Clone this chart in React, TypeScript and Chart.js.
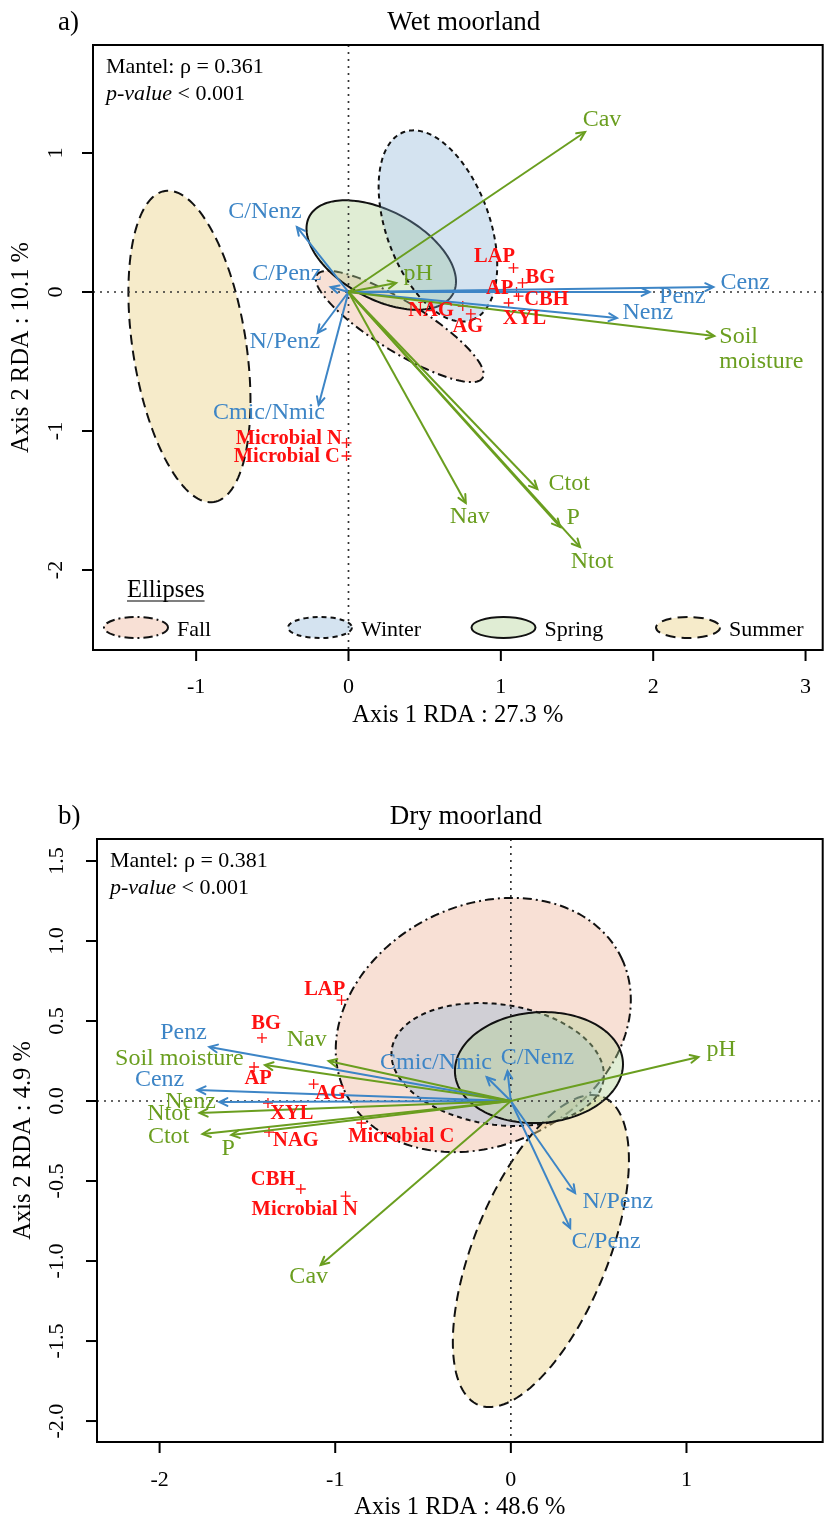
import React, { useEffect, useRef } from "react";
import { Chart, registerables } from "chart.js";
Chart.register(...registerables);

const SERIF = '"Liberation Serif", "Times New Roman", Times, serif';
const BLUE = "#3d85c6";
const GREEN = "#6a9e1f";
const RED = "#ff1010";

// ================= a) Wet moorland =================
const A_ENV_NAMES = ["Cav", "pH", "Soil\nmoisture", "Ctot", "P", "Ntot", "Nav"];
const A_ENV_X = [1.553, 0.313, 2.401, 1.24, 1.39, 1.52, 0.77];
const A_ENV_Y = [1.151, 0.065, -0.317, -1.417, -1.691, -1.835, -1.518];
const A_ENV_LX = [1.664, 0.457, 2.434, 1.449, 1.475, 1.599, 0.796];
const A_ENV_LY = [1.237, 0.129, -0.414, -1.381, -1.626, -1.942, -1.619];

const A_ENZ_NAMES = ["Cenz", "Penz", "Nenz", "C/Nenz", "C/Penz", "N/Penz", "Cmic/Nmic"];
const A_ENZ_X = [2.395, 1.977, 1.762, -0.339, -0.117, -0.202, -0.196];
const A_ENZ_Y = [0.036, 0.0, -0.187, 0.468, 0.036, -0.295, -0.813];
const A_ENZ_LX = [2.604, 2.192, 1.964, -0.548, -0.405, -0.418, -0.522];
const A_ENZ_LY = [0.065, -0.036, -0.151, 0.576, 0.129, -0.36, -0.871];

const A_SP_NAMES = ["LAP", "BG", "AP", "CBH", "XYL", "NAG", "AG", "Microbial N", "Microbial C"];
const A_SP_X = [1.083, 1.142, 1.103, 1.116, 1.051, 0.75, 0.803, -0.013, -0.013];
const A_SP_Y = [0.173, 0.065, 0.0, -0.029, -0.079, -0.101, -0.158, -1.086, -1.18];
const A_SP_LX = [0.959, 1.259, 0.992, 1.299, 1.155, 0.542, 0.783, -0.392, -0.405];
const A_SP_LY = [0.252, 0.101, 0.022, -0.058, -0.194, -0.137, -0.252, -1.058, -1.187];

const A_ELL_SEASONS = ["Fall", "Spring", "Winter", "Summer"];
const A_ELL_CX = [0.336, 0.215, 0.587, -1.044];
const A_ELL_CY = [-0.248, 0.266, 0.475, -0.392];
const A_ELL_AX = [0.544, 0.472, 0.223, 0.1605];
const A_ELL_AY = [-0.37, -0.277, -0.676, -1.119];
const A_ELL_BX = [-0.0855, -0.134, 0.319, 0.367];
const A_ELL_BY = [-0.153, -0.28, 0.128, 0.064];

const A_XTICKS = [-1, 0, 1, 2, 3];
const A_XTICK_LABELS = ["-1", "0", "1", "2", "3"];
const A_YTICKS = [-2, -1, 0, 1];
const A_YTICK_LABELS = ["-2", "-1", "0", "1"];

// ================= b) Dry moorland =================
const B_ENV_NAMES = ["Cav", "pH", "Soil moisture", "Ctot", "P", "Ntot", "Nav"];
const B_ENV_X = [-1.083, 1.068, -1.4, -1.756, -1.592, -1.773, -1.038];
const B_ENV_Y = [-1.025, 0.275, 0.225, -0.206, -0.2125, -0.075, 0.25];
const B_ENV_LX = [-1.151, 1.198, -1.887, -1.949, -1.609, -1.949, -1.162];
const B_ENV_LY = [-1.1, 0.319, 0.2625, -0.225, -0.3, -0.081, 0.381];

const B_ENZ_NAMES = ["Cenz", "Penz", "Nenz", "C/Nenz", "C/Penz", "N/Penz", "Cmic/Nmic"];
const B_ENZ_X = [-1.785, -1.717, -1.66, -0.019, 0.338, 0.366, -0.138];
const B_ENZ_Y = [0.069, 0.3375, -0.006, 0.1875, -0.794, -0.575, 0.15];
const B_ENZ_LX = [-2.0, -1.864, -1.824, 0.151, 0.542, 0.609, -0.426];
const B_ENZ_LY = [0.131, 0.425, -0.006, 0.269, -0.881, -0.631, 0.2375];

const B_SP_NAMES = ["LAP", "BG", "AP", "AG", "XYL", "NAG", "Microbial C", "CBH", "Microbial N"];
const B_SP_X = [-0.964, -1.417, -1.462, -1.123, -1.383, -1.377, -0.851, -1.196, -0.941];
const B_SP_Y = [0.631, 0.394, 0.2125, 0.106, -0.0125, -0.194, -0.1375, -0.55, -0.594];
const B_SP_LX = [-1.06, -1.394, -1.439, -1.026, -1.247, -1.224, -0.624, -1.354, -1.174];
const B_SP_LY = [0.694, 0.481, 0.1375, 0.044, -0.081, -0.25, -0.225, -0.494, -0.681];

const B_ELL_SEASONS = ["Fall", "Summer", "Winter", "Spring"];
const B_ELL_CX = [-0.157, 0.171, -0.075, 0.16];
const B_ELL_CY = [0.475, -0.9375, 0.228, 0.209];
const B_ELL_AX = [0.787, 0.355, 0.603, 0.478];
const B_ELL_AY = [0.419, 0.962, -0.094, 0.036];
const B_ELL_BX = [0.294, 0.354, -0.047, 0.0213];
const B_ELL_BY = [-0.675, -0.159, -0.3725, -0.345];

const B_XTICKS = [-2, -1, 0, 1];
const B_XTICK_LABELS = ["-2", "-1", "0", "1"];
const B_YTICKS = [-2, -1.5, -1, -0.5, 0, 0.5, 1, 1.5];
const B_YTICK_LABELS = ["-2.0", "-1.5", "-1.0", "-0.5", "0.0", "0.5", "1.0", "1.5"];

const LEGEND_SEASONS = ["Fall", "Winter", "Spring", "Summer"];

const SEASON_STYLE: any = {
  Fall: { fill: "rgba(236,168,138,0.36)", dash: [9, 4, 2, 4] },
  Winter: { fill: "rgba(128,174,210,0.34)", dash: [5, 4] },
  Spring: { fill: "rgba(178,210,148,0.40)", dash: [] },
  Summer: { fill: "rgba(236,210,138,0.45)", dash: [10, 6] },
};

const PANELS: any[] = [
  {
    letter: "a)", title: "Wet moorland",
    canvasTop: 0, height: 760,
    pad: { left: 93, top: 45, right: 2, bottom: 110 },
    xr: [-1.677, 3.1126], yr: [-2.5755, 1.777],
    xTitle: "Axis 1 RDA : 27.3 %", yTitle: "Axis 2 RDA : 10.1 %",
    xTitleY: 716, yTitleX: 22, xTickY: 687, yTickOff: 37,
    mantel: "Mantel: \u03c1 = 0.361", mantelX: 106, mantelY: [73, 100],
    xticks: A_XTICKS, xtickLabels: A_XTICK_LABELS, yticks: A_YTICKS, ytickLabels: A_YTICK_LABELS,
    env: { names: A_ENV_NAMES, x: A_ENV_X, y: A_ENV_Y, lx: A_ENV_LX, ly: A_ENV_LY },
    enz: { names: A_ENZ_NAMES, x: A_ENZ_X, y: A_ENZ_Y, lx: A_ENZ_LX, ly: A_ENZ_LY, labelColors: {} },
    sp: { names: A_SP_NAMES, x: A_SP_X, y: A_SP_Y, lx: A_SP_LX, ly: A_SP_LY },
    ell: { seasons: A_ELL_SEASONS, cx: A_ELL_CX, cy: A_ELL_CY, ax: A_ELL_AX, ay: A_ELL_AY, bx: A_ELL_BX, by: A_ELL_BY },
    legend: true,
  },
  {
    letter: "b)", title: "Dry moorland",
    canvasTop: 760, height: 761,
    pad: { left: 97, top: 79, right: 2, bottom: 79 },
    xr: [-2.3564, 1.7756], yr: [-2.131, 1.6375],
    xTitle: "Axis 1 RDA : 48.6 %", yTitle: "Axis 2 RDA : 4.9 %",
    xTitleY: 748, yTitleX: 24, xTickY: 720, yTickOff: 40,
    mantel: "Mantel: \u03c1 = 0.381", mantelX: 110, mantelY: [107, 134],
    xticks: B_XTICKS, xtickLabels: B_XTICK_LABELS, yticks: B_YTICKS, ytickLabels: B_YTICK_LABELS,
    env: { names: B_ENV_NAMES, x: B_ENV_X, y: B_ENV_Y, lx: B_ENV_LX, ly: B_ENV_LY },
    enz: { names: B_ENZ_NAMES, x: B_ENZ_X, y: B_ENZ_Y, lx: B_ENZ_LX, ly: B_ENZ_LY, labelColors: { Nenz: GREEN } },
    sp: { names: B_SP_NAMES, x: B_SP_X, y: B_SP_Y, lx: B_SP_LX, ly: B_SP_LY },
    ell: { seasons: B_ELL_SEASONS, cx: B_ELL_CX, cy: B_ELL_CY, ax: B_ELL_AX, ay: B_ELL_AY, bx: B_ELL_BX, by: B_ELL_BY },
    legend: false,
  },
];

function drawLabel(ctx: any, text: string, x: number, y: number, font: string, color: string) {
  ctx.save();
  ctx.font = font;
  ctx.fillStyle = color;
  ctx.textBaseline = "middle";
  const lines = text.split("\n");
  if (lines.length > 1) {
    ctx.textAlign = "left";
    const lh = 25;
    const y0 = y - ((lines.length - 1) * lh) / 2;
    lines.forEach((l, i) => ctx.fillText(l, x, y0 + i * lh));
  } else {
    ctx.textAlign = "center";
    ctx.fillText(text, x, y);
  }
  ctx.restore();
}

function ellipsePath(ctx: any, pts: number[][]) {
  ctx.beginPath();
  pts.forEach((p, k) => (k ? ctx.lineTo(p[0], p[1]) : ctx.moveTo(p[0], p[1])));
  ctx.closePath();
}

function makePlugin(P: any) {
  return {
    id: "rda",
    beforeDatasetsDraw(chart: any) {
      const ctx = chart.ctx;
      const xs = chart.scales.x, ys = chart.scales.y, a = chart.chartArea;
      ctx.save();
      ctx.beginPath();
      ctx.rect(a.left, a.top, a.right - a.left, a.bottom - a.top);
      ctx.clip();
      const E = P.ell;
      E.seasons.forEach((s: string, i: number) => {
        const st = SEASON_STYLE[s];
        const pts: number[][] = [];
        const N = 160;
        for (let k = 0; k <= N; k++) {
          const t = (k / N) * Math.PI * 2;
          const dx = E.cx[i] + E.ax[i] * Math.cos(t) + E.bx[i] * Math.sin(t);
          const dy = E.cy[i] + E.ay[i] * Math.cos(t) + E.by[i] * Math.sin(t);
          pts.push([xs.getPixelForValue(dx), ys.getPixelForValue(dy)]);
        }
        ellipsePath(ctx, pts);
        ctx.fillStyle = st.fill;
        ctx.fill();
        ctx.setLineDash(st.dash);
        ctx.lineWidth = 2;
        ctx.strokeStyle = "#111";
        ctx.stroke();
      });
      // dotted zero lines
      const x0 = xs.getPixelForValue(0), y0 = ys.getPixelForValue(0);
      ctx.setLineDash([2, 5]);
      ctx.strokeStyle = "#333";
      ctx.lineWidth = 1.7;
      ctx.beginPath();
      ctx.moveTo(x0, a.top);
      ctx.lineTo(x0, a.bottom);
      ctx.moveTo(a.left, y0);
      ctx.lineTo(a.right, y0);
      ctx.stroke();
      ctx.restore();
    },
    afterDatasetsDraw(chart: any) {
      const ctx = chart.ctx;
      const xs = chart.scales.x, ys = chart.scales.y;
      const ox = xs.getPixelForValue(0), oy = ys.getPixelForValue(0);
      const heads = (grp: any, color: string) => {
        grp.x.forEach((vx: number, i: number) => {
          const tx = xs.getPixelForValue(vx), ty = ys.getPixelForValue(grp.y[i]);
          const ang = Math.atan2(ty - oy, tx - ox);
          const L = 9, sp = 0.45;
          ctx.save();
          ctx.strokeStyle = color;
          ctx.lineWidth = 2;
          ctx.lineCap = "round";
          ctx.beginPath();
          ctx.moveTo(tx - L * Math.cos(ang - sp), ty - L * Math.sin(ang - sp));
          ctx.lineTo(tx, ty);
          ctx.lineTo(tx - L * Math.cos(ang + sp), ty - L * Math.sin(ang + sp));
          ctx.stroke();
          ctx.restore();
        });
      };
      heads(P.env, GREEN);
      heads(P.enz, BLUE);
      const lab = (grp: any, color: string, font: string, overrides: any) => {
        grp.names.forEach((n: string, i: number) => {
          const c = (overrides && overrides[n]) || color;
          drawLabel(ctx, n, xs.getPixelForValue(grp.lx[i]), ys.getPixelForValue(grp.ly[i]), font, c);
        });
      };
      lab(P.env, GREEN, `24px ${SERIF}`, null);
      lab(P.enz, BLUE, `24px ${SERIF}`, P.enz.labelColors);
      lab(P.sp, RED, `bold 20.5px ${SERIF}`, null);
    },
    afterDraw(chart: any) {
      const ctx = chart.ctx;
      const xs = chart.scales.x, ys = chart.scales.y, a = chart.chartArea;
      ctx.save();
      // box
      ctx.strokeStyle = "#000";
      ctx.lineWidth = 2;
      ctx.setLineDash([]);
      ctx.strokeRect(a.left, a.top, a.right - a.left, a.bottom - a.top);
      // ticks
      ctx.fillStyle = "#000";
      ctx.font = `22px ${SERIF}`;
      ctx.textAlign = "center";
      ctx.textBaseline = "middle";
      P.xticks.forEach((v: number, i: number) => {
        const px = xs.getPixelForValue(v);
        ctx.beginPath();
        ctx.moveTo(px, a.bottom);
        ctx.lineTo(px, a.bottom + 11);
        ctx.stroke();
        ctx.fillText(P.xtickLabels[i], px, P.xTickY);
      });
      P.yticks.forEach((v: number, i: number) => {
        const py = ys.getPixelForValue(v);
        ctx.beginPath();
        ctx.moveTo(a.left, py);
        ctx.lineTo(a.left - 11, py);
        ctx.stroke();
        ctx.save();
        ctx.translate(a.left - P.yTickOff, py);
        ctx.rotate(-Math.PI / 2);
        ctx.fillText(P.ytickLabels[i], 0, 0);
        ctx.restore();
      });
      // axis titles
      ctx.font = `24.5px ${SERIF}`;
      const cxm = (a.left + a.right) / 2, cym = (a.top + a.bottom) / 2;
      ctx.fillText(P.xTitle, cxm, P.xTitleY);
      ctx.save();
      ctx.translate(P.yTitleX, cym);
      ctx.rotate(-Math.PI / 2);
      ctx.fillText(P.yTitle, 0, 0);
      ctx.restore();
      // title and letter
      ctx.textBaseline = "alphabetic";
      ctx.font = `27px ${SERIF}`;
      ctx.fillText(P.title, cxm + 6, a.top - 15);
      ctx.textAlign = "left";
      ctx.fillText(P.letter, 58, a.top - 15);
      // mantel
      ctx.font = `22px ${SERIF}`;
      ctx.fillText(P.mantel, P.mantelX, P.mantelY[0]);
      ctx.font = `italic 22px ${SERIF}`;
      ctx.fillText("p-value", P.mantelX, P.mantelY[1]);
      const w = ctx.measureText("p-value").width;
      ctx.font = `22px ${SERIF}`;
      ctx.fillText(" < 0.001", P.mantelX + w, P.mantelY[1]);
      // legend
      if (P.legend) {
        ctx.font = `24.5px ${SERIF}`;
        ctx.textAlign = "left";
        ctx.fillText("Ellipses", 127, 597);
        const ew = ctx.measureText("Ellipses").width;
        ctx.lineWidth = 1.2;
        ctx.beginPath();
        ctx.moveTo(127, 601);
        ctx.lineTo(127 + ew, 601);
        ctx.stroke();
        const centers = [136, 320, 503.5, 688];
        ctx.font = `22px ${SERIF}`;
        LEGEND_SEASONS.forEach((s, i) => {
          const st = SEASON_STYLE[s];
          ctx.save();
          ctx.beginPath();
          ctx.ellipse(centers[i], 627.5, 32, 10.5, 0, 0, Math.PI * 2);
          ctx.fillStyle = st.fill;
          ctx.fill();
          ctx.setLineDash(st.dash);
          ctx.lineWidth = 2;
          ctx.strokeStyle = "#111";
          ctx.stroke();
          ctx.restore();
          ctx.fillStyle = "#000";
          ctx.textBaseline = "middle";
          ctx.fillText(s, centers[i] + 41, 630);
        });
      }
      ctx.restore();
    },
  };
}

function buildDatasets(P: any) {
  const ds: any[] = [];
  P.env.x.forEach((x: number, i: number) =>
    ds.push({
      data: [{ x: 0, y: 0 }, { x, y: P.env.y[i] }],
      showLine: true, borderColor: GREEN, borderWidth: 2, pointRadius: 0, fill: false,
    })
  );
  P.enz.x.forEach((x: number, i: number) =>
    ds.push({
      data: [{ x: 0, y: 0 }, { x, y: P.enz.y[i] }],
      showLine: true, borderColor: BLUE, borderWidth: 2, pointRadius: 0, fill: false,
    })
  );
  ds.push({
    data: P.sp.x.map((x: number, i: number) => ({ x, y: P.sp.y[i] })),
    showLine: false, pointStyle: "cross", pointRadius: 5, borderColor: RED, borderWidth: 1.3,
  });
  return ds;
}

function Panel({ P }: { P: any }) {
  const ref = useRef<HTMLCanvasElement>(null);
  useEffect(() => {
    const chart = new Chart(ref.current as HTMLCanvasElement, {
      type: "scatter",
      data: { datasets: buildDatasets(P) },
      options: {
        responsive: false,
        maintainAspectRatio: false,
        animation: false,
        devicePixelRatio: 1,
        layout: { padding: P.pad },
        plugins: { legend: { display: false }, tooltip: { enabled: false } },
        scales: {
          x: { type: "linear", display: false, min: P.xr[0], max: P.xr[1] },
          y: { type: "linear", display: false, min: P.yr[0], max: P.yr[1] },
        },
      } as any,
      plugins: [makePlugin(P)],
    });
    return () => chart.destroy();
  }, []);
  return (
    <canvas
      ref={ref}
      width={829}
      height={P.height}
      style={{ position: "absolute", left: 0, top: P.canvasTop, width: 829, height: P.height }}
    />
  );
}

export default function App() {
  return (
    <div style={{ position: "absolute", left: 0, top: 0, width: 829, height: 1521, background: "#fff" }}>
      {PANELS.map((P, i) => (
        <Panel key={i} P={P} />
      ))}
    </div>
  );
}
